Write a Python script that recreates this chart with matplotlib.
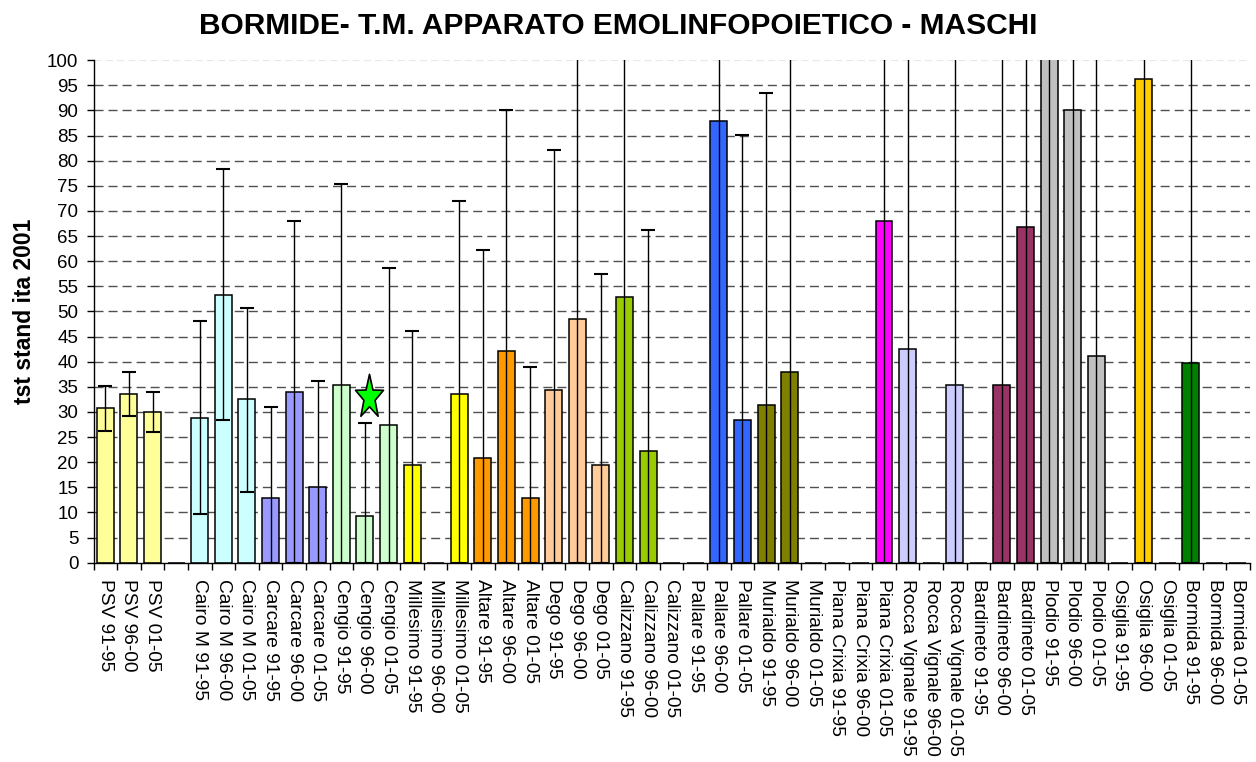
import numpy as np
import matplotlib
matplotlib.use("Agg")
import matplotlib.pyplot as plt
from matplotlib.path import Path

plt.rcParams['font.family'] = ['Liberation Sans', 'DejaVu Sans']

# --- data -------------------------------------------------------------
labels = ["PSV 91-95", "PSV 96-00", "PSV 01-05", "",
          "Cairo M 91-95", "Cairo M 96-00", "Cairo M 01-05",
          "Carcare 91-95", "Carcare 96-00", "Carcare 01-05",
          "Cengio 91-95", "Cengio 96-00", "Cengio 01-05",
          "Millesimo 91-95", "Millesimo 96-00", "Millesimo 01-05",
          "Altare 91-95", "Altare 96-00", "Altare 01-05",
          "Dego 91-95", "Dego 96-00", "Dego 01-05",
          "Calizzano 91-95", "Calizzano 96-00", "Calizzano 01-05",
          "Pallare 91-95", "Pallare 96-00", "Pallare 01-05",
          "Murialdo 91-95", "Murialdo 96-00", "Murialdo 01-05",
          "Piana Crixia 91-95", "Piana Crixia 96-00", "Piana Crixia 01-05",
          "Rocca Vignale 91-95", "Rocca Vignale 96-00", "Rocca Vignale 01-05",
          "Bardineto 91-95", "Bardineto 96-00", "Bardineto 01-05",
          "Plodio 91-95", "Plodio 96-00", "Plodio 01-05",
          "Osiglia 91-95", "Osiglia 96-00", "Osiglia 01-05",
          "Bormida 91-95", "Bormida 96-00", "Bormida 01-05"]

# standardised rate (Italy 2001 standard)
rates = [30.7, 33.5, 29.9, 0.0,
         28.9, 53.2, 32.5,
         12.9, 33.9, 15.0,
         35.3, 9.3, 27.4,
         19.5, 0.0, 33.6,
         20.9, 42.2, 12.9,
         34.3, 48.5, 19.5,
         52.8, 22.3, 0.0,
         0.0, 87.9, 28.5,
         31.4, 37.9, 0.0,
         0.0, 0.0, 68.0,
         42.6, 0.0, 35.4,
         0.0, 35.4, 66.9,
         115.0, 90.1, 41.2,
         0.0, 96.2, 0.0,
         39.7, 0.0, 0.0]

# 95% confidence limits
ci_low = [26.3, 29.1, 26.0, 0.0,
          9.6, 28.5, 14.0,
          0.0, 0.0, 0.0,
          0.0, 0.0, 0.0,
          0.0, 0.0, 0.0,
          0.0, 0.0, 0.0,
          0.0, 0.0, 0.0,
          0.0, 0.0, 0.0,
          0.0, 0.0, 0.0,
          0.0, 0.0, 0.0,
          0.0, 0.0, 0.0,
          0.0, 0.0, 0.0,
          0.0, 0.0, 0.0,
          0.0, 0.0, 0.0,
          0.0, 0.0, 0.0,
          0.0, 0.0, 0.0]
ci_high = [35.1, 37.9, 33.9, 0.0,
           48.1, 78.3, 50.6,
           31.0, 68.1, 36.1,
           75.3, 27.8, 58.6,
           46.2, 0.0, 72.0,
           62.2, 90.1, 39.0,
           82.2, 130.0, 57.5,
           115.0, 66.2, 0.0,
           0.0, 160.0, 85.1,
           93.4, 125.0, 0.0,
           0.0, 0.0, 210.0,
           160.0, 0.0, 190.0,
           0.0, 170.0, 220.0,
           320.0, 260.0, 210.0,
           0.0, 420.0, 0.0,
           210.0, 0.0, 0.0]

town_colors = {"PSV": "#FFFF99", "Cairo M": "#CCFFFF",
               "Carcare": "#9999FF", "Cengio": "#CCFFCC", "Millesimo": "#FFFF00",
               "Altare": "#FF9900", "Dego": "#FFCC99", "Calizzano": "#99CC00",
               "Pallare": "#3366FF", "Murialdo": "#808000",
               "Piana Crixia": "#FF00FF", "Rocca Vignale": "#CCCCFF",
               "Bardineto": "#993366", "Plodio": "#C0C0C0",
               "Osiglia": "#FFCC00", "Bormida": "#008000"}

highlight_label = "Cengio 96-00"
highlight_value = 33.0

yticks = list(range(0, 101, 5))

# --- figure -------------------------------------------------------------
def bar_color(lab):
    for t in sorted(town_colors, key=len, reverse=True):
        if lab.startswith(t + " "):
            return town_colors[t]
    return "#FFFFFF"

colors = [bar_color(l) for l in labels]
x = np.arange(len(labels))
rates_a = np.array(rates)
lo = np.array(ci_low)
hi = np.array(ci_high)

fig = plt.figure(figsize=(12.56, 7.62), dpi=100)
ax = fig.add_axes([0.0745, 0.2615, 0.9205, 0.6595])

for yv in yticks[1:-1]:
    ax.axhline(yv, color="#505050", lw=1.0, ls=(0, (6.5, 3.6)), zorder=0)
ax.axhline(100, color="#e8e8e8", lw=0.8, ls=(0, (6.5, 3.6)), zorder=0)

ax.bar(x, rates_a, width=0.72, color=colors, edgecolor="black",
       linewidth=1.1, zorder=2)

has = rates_a > 0
ax.errorbar(x[has], rates_a[has],
            yerr=[rates_a[has] - lo[has], hi[has] - rates_a[has]],
            fmt="none", ecolor="black", elinewidth=1.0, capsize=4.7,
            capthick=1.5, zorder=3)

# five-pointed star marker, drawn taller than wide
ang = np.pi / 2 + np.arange(10) * np.pi / 5
rad = np.where(np.arange(10) % 2 == 0, 1.0, 0.40)
verts = np.column_stack([rad * np.cos(ang), rad * np.sin(ang) * 1.58])
verts = np.vstack([verts, verts[:1]])
star = Path(verts, closed=True)
hx = labels.index(highlight_label)
ax.plot([hx + 0.18], [highlight_value], marker=star, markersize=33.4,
        markerfacecolor="#00FF00", markeredgecolor="black",
        markeredgewidth=1.2, linestyle="none", zorder=4, clip_on=False)

ax.set_xlim(-0.5, len(labels) - 0.5)
ax.set_ylim(0, 100)
ax.set_yticks(yticks)
ax.set_yticklabels([str(v) for v in yticks], fontsize=13.5)
ax.tick_params(axis="y", direction="out", length=5, width=1, pad=6)

ax.set_xticks(x)
ax.set_xticklabels(labels, rotation=-90, fontsize=13.8, va="top", ha="center")
ax.tick_params(axis="x", which="major", length=0, pad=11.5)
ax.set_xticks(np.arange(-0.5, len(labels), 1.0), minor=True)
ax.tick_params(axis="x", which="minor", direction="out", length=5, width=1)

for s in ("top", "right"):
    ax.spines[s].set_visible(False)
ax.spines["left"].set_linewidth(1.0)
ax.spines["bottom"].set_linewidth(1.0)

ax.set_ylabel("tst stand ita 2001", fontsize=16.5, fontweight="bold", labelpad=8)
fig.text(0.4924, 0.9554, "BORMIDE- T.M. APPARATO EMOLINFOPOIETICO - MASCHI",
         fontsize=21.5, fontweight="bold", ha="center", va="baseline")

fig.savefig("out.png", dpi=100)
